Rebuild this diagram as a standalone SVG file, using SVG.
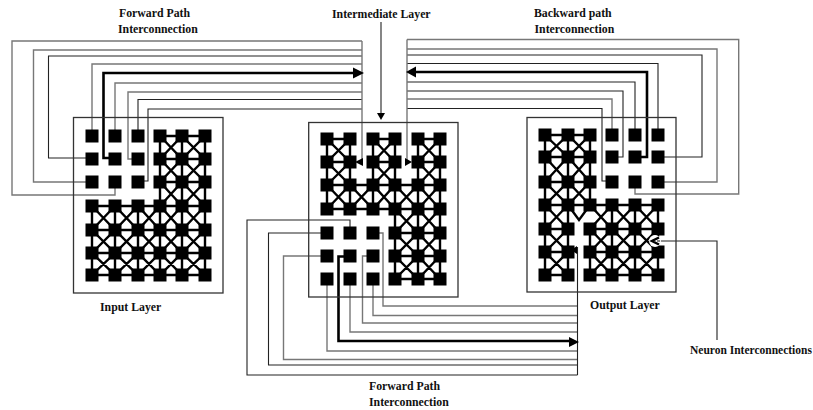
<svg xmlns="http://www.w3.org/2000/svg" width="813" height="410" viewBox="0 0 813 410">
<style>
text{font-family:"Liberation Serif","Times New Roman",serif;font-size:11.8px;font-weight:bold;fill:#111}
.box{fill:none;stroke:#333;stroke-width:1.3}
.mesh{fill:none;stroke:#000;stroke-width:2.4}
.n{fill:#000}
.k{fill:none;stroke:#222;stroke-width:1.1}
.g{fill:none;stroke:#777;stroke-width:1.4}
.t{fill:none;stroke:#000;stroke-width:2.6}
.a{fill:#000}
</style>
<defs><rect id="n" x="-6.500" y="-6.500" width="13" height="13" class="n"/></defs>
<rect width="813" height="410" fill="#fff"/>

<g id="connectors">
<path class="g" d="M115 182V195H12V41H362"/>
<path class="g" d="M92 182H33.500V50H362"/>
<path class="k" d="M92 158H48.500V56H362"/>
<path class="g" d="M92 136V64H362"/>
<path class="t" d="M115 158H103.500V73H356"/>
<path class="g" d="M115 136V83H362"/>
<path class="g" d="M138 159H128V92H362"/>
<path class="k" d="M138 136V99.500H362"/>
<path class="k" d="M138 181H148V109H362"/>
<path class="g" d="M362 41V162"/>
<path class="a" d="M364 73L353 67.500V78.500Z"/>
<path class="a" d="M355 162L363 158V166Z"/>

<path class="g" d="M635 182V194H738.700V39.500H407"/>
<path class="g" d="M658 182H717V49H407"/>
<path class="k" d="M658 157H702V55H407"/>
<path class="k" d="M658 135V63.500H407"/>
<path class="t" d="M635 157H647V72H414"/>
<path class="k" d="M635 135V82H407"/>
<path class="k" d="M612 157H623V91H407"/>
<path class="g" d="M612 135V99H407"/>
<path class="k" d="M612 181H602V108.500H407"/>
<path class="g" d="M407 39.500V162"/>
<path class="a" d="M406 72L416 66.500V77.500Z"/>
<path class="a" d="M412 162L405 158V166Z"/>

<path class="k" d="M381 22V114"/>
<path class="a" d="M381 120L377 113H385Z"/>

<path class="k" d="M350 233V220H247V375H577.500"/>
<path class="k" d="M327 233H268.500V365H577.500"/>
<path class="g" d="M327 256H283.500V359.500H577.500"/>
<path class="g" d="M327 279V351H577.500"/>
<path class="t" d="M350 256.500H338.500V341H570"/>
<path class="g" d="M350 279V332H577.500"/>
<path class="g" d="M373 256H362.500V323H577.500"/>
<path class="g" d="M373 279V315.500H577.500"/>
<path class="g" d="M373 233H383V306H577.500"/>
<path class="k" d="M577.500 375V247"/>
<path class="a" d="M579 342L569 337V347Z"/>
<path class="a" d="M571 250L577 246V254Z"/>

<path class="k" d="M717 340V241H660"/>
</g>

<g id="input-layer">
<rect class="box" x="73.500" y="117.500" width="149.500" height="175.500"/>
<path class="mesh" d="M160 136V275M182 136V275M205 136V275M92 206V275M115 206V275M138 206V275M160 136H205M160 159H205M160 182H205M92 206H205M92 230H205M92 253H205M92 275H205"/>
<path class="mesh" d="M160 136L182 159L205 136M160 159L182 136L205 159M160 159L182 182L205 159M160 182L182 159L205 182M160 182L182 206L205 182M160 206L182 182L205 206M92 206L115 230L138 206L160 230L182 206L205 230M92 230L115 206L138 230L160 206L182 230L205 206M92 230L115 253L138 230L160 253L182 230L205 253M92 253L115 230L138 253L160 230L182 253L205 230M92 253L115 275L138 253L160 275L182 253L205 275M92 275L115 253L138 275L160 253L182 275L205 253"/>
<use href="#n" x="92" y="136"/><use href="#n" x="115" y="136"/><use href="#n" x="138" y="136"/><use href="#n" x="160" y="136"/><use href="#n" x="182" y="136"/><use href="#n" x="205" y="136"/>
<use href="#n" x="92" y="159"/><use href="#n" x="115" y="159"/><use href="#n" x="138" y="159"/><use href="#n" x="160" y="159"/><use href="#n" x="182" y="159"/><use href="#n" x="205" y="159"/>
<use href="#n" x="92" y="182"/><use href="#n" x="115" y="182"/><use href="#n" x="138" y="182"/><use href="#n" x="160" y="182"/><use href="#n" x="182" y="182"/><use href="#n" x="205" y="182"/>
<use href="#n" x="92" y="206"/><use href="#n" x="115" y="206"/><use href="#n" x="138" y="206"/><use href="#n" x="160" y="206"/><use href="#n" x="182" y="206"/><use href="#n" x="205" y="206"/>
<use href="#n" x="92" y="230"/><use href="#n" x="115" y="230"/><use href="#n" x="138" y="230"/><use href="#n" x="160" y="230"/><use href="#n" x="182" y="230"/><use href="#n" x="205" y="230"/>
<use href="#n" x="92" y="253"/><use href="#n" x="115" y="253"/><use href="#n" x="138" y="253"/><use href="#n" x="160" y="253"/><use href="#n" x="182" y="253"/><use href="#n" x="205" y="253"/>
<use href="#n" x="92" y="275"/><use href="#n" x="115" y="275"/><use href="#n" x="138" y="275"/><use href="#n" x="160" y="275"/><use href="#n" x="182" y="275"/><use href="#n" x="205" y="275"/>
</g>

<g id="intermediate-layer">
<rect class="box" x="308.700" y="122.500" width="149.300" height="174.500"/>
<path class="mesh" d="M327 139V209M350 139V209M373 139V209M395 139V279M418 139V279M440 139V279M327 139H350M373 139H395M418 139H440M327 162H350M373 162H395M418 162H440M327 185H440M327 209H440M395 233H440M395 256H440M395 279H440"/>
<path class="mesh" d="M327 139L350 162M350 139L327 162M373 139L395 162M395 139L373 162M418 139L440 162M440 139L418 162M327 162L350 185M350 162L327 185M373 162L395 185M395 162L373 185M418 162L440 185M440 162L418 185M327 185L350 209L373 185L395 209L418 185L440 209M327 209L350 185L373 209L395 185L418 209L440 185M395 209L418 233L440 209M395 233L418 209L440 233M395 233L418 256L440 233M395 256L418 233L440 256M395 256L418 279L440 256M395 279L418 256L440 279"/>
<use href="#n" x="327" y="139"/><use href="#n" x="350" y="139"/><use href="#n" x="373" y="139"/><use href="#n" x="395" y="139"/><use href="#n" x="418" y="139"/><use href="#n" x="440" y="139"/>
<use href="#n" x="327" y="162"/><use href="#n" x="350" y="162"/><use href="#n" x="373" y="162"/><use href="#n" x="395" y="162"/><use href="#n" x="418" y="162"/><use href="#n" x="440" y="162"/>
<use href="#n" x="327" y="185"/><use href="#n" x="350" y="185"/><use href="#n" x="373" y="185"/><use href="#n" x="395" y="185"/><use href="#n" x="418" y="185"/><use href="#n" x="440" y="185"/>
<use href="#n" x="327" y="209"/><use href="#n" x="350" y="209"/><use href="#n" x="373" y="209"/><use href="#n" x="395" y="209"/><use href="#n" x="418" y="209"/><use href="#n" x="440" y="209"/>
<use href="#n" x="327" y="233"/><use href="#n" x="350" y="233"/><use href="#n" x="373" y="233"/><use href="#n" x="395" y="233"/><use href="#n" x="418" y="233"/><use href="#n" x="440" y="233"/>
<use href="#n" x="327" y="256"/><use href="#n" x="350" y="256"/><use href="#n" x="373" y="256"/><use href="#n" x="395" y="256"/><use href="#n" x="418" y="256"/><use href="#n" x="440" y="256"/>
<use href="#n" x="327" y="279"/><use href="#n" x="350" y="279"/><use href="#n" x="373" y="279"/><use href="#n" x="395" y="279"/><use href="#n" x="418" y="279"/><use href="#n" x="440" y="279"/>
</g>

<g id="output-layer">
<rect class="box" x="527" y="117.500" width="149" height="174.500"/>
<path class="mesh" d="M545 135V275M568 135V275M590 135V205M590 229V275M612 205V275M635 205V275M658 205V275M545 135H590M545 157H590M545 182H590M545 205H658M545 229H568M590 229H658M545 252H568M590 252H658M545 275H568M590 275H658"/>
<path class="mesh" d="M545 135L568 157L590 135M545 157L568 135L590 157M545 157L568 182L590 157M545 182L568 157L590 182M545 182L568 205L590 182M545 205L568 182L590 205M545 205L568 229M568 205L545 229M545 229L568 252M568 229L545 252M545 252L568 275M568 252L545 275M568 205L579 220L590 205M590 205L612 229L635 205L658 229M590 229L612 205L635 229L658 205M590 229L612 252L635 229L658 252M590 252L612 229L635 252L658 229M590 252L612 275L635 252L658 275M590 275L612 252L635 275L658 252"/>
<use href="#n" x="545" y="135"/><use href="#n" x="568" y="135"/><use href="#n" x="590" y="135"/><use href="#n" x="612" y="135"/><use href="#n" x="635" y="135"/><use href="#n" x="658" y="135"/>
<use href="#n" x="545" y="157"/><use href="#n" x="568" y="157"/><use href="#n" x="590" y="157"/><use href="#n" x="612" y="157"/><use href="#n" x="635" y="157"/><use href="#n" x="658" y="157"/>
<use href="#n" x="545" y="182"/><use href="#n" x="568" y="182"/><use href="#n" x="590" y="182"/><use href="#n" x="612" y="182"/><use href="#n" x="635" y="182"/><use href="#n" x="658" y="182"/>
<use href="#n" x="545" y="205"/><use href="#n" x="568" y="205"/><use href="#n" x="590" y="205"/><use href="#n" x="612" y="205"/><use href="#n" x="635" y="205"/><use href="#n" x="658" y="205"/>
<use href="#n" x="545" y="229"/><use href="#n" x="568" y="229"/><use href="#n" x="590" y="229"/><use href="#n" x="612" y="229"/><use href="#n" x="635" y="229"/><use href="#n" x="658" y="229"/>
<use href="#n" x="545" y="252"/><use href="#n" x="568" y="252"/><use href="#n" x="590" y="252"/><use href="#n" x="612" y="252"/><use href="#n" x="635" y="252"/><use href="#n" x="658" y="252"/>
<use href="#n" x="545" y="275"/><use href="#n" x="568" y="275"/><use href="#n" x="590" y="275"/><use href="#n" x="612" y="275"/><use href="#n" x="635" y="275"/><use href="#n" x="658" y="275"/>
<circle cx="655" cy="241" r="6" fill="#fff"/>
<path d="M659 237.500L652 241L659 244.500" fill="none" stroke="#000" stroke-width="2.500"/>
<path class="k" d="M660 241H657"/>
</g>

<g id="labels">
<text x="119" y="17">Forward Path</text>
<text x="118" y="33">Interconnection</text>
<text x="332" y="18">Intermediate Layer</text>
<text x="534" y="17">Backward path</text>
<text x="534.500" y="33">Interconnection</text>
<text x="100" y="311">Input Layer</text>
<text x="590" y="309">Output Layer</text>
<text x="690" y="354" style="font-size:11.500px">Neuron Interconnections</text>
<text x="369" y="390">Forward Path</text>
<text x="369" y="406">Interconnection</text>
</g>
</svg>
